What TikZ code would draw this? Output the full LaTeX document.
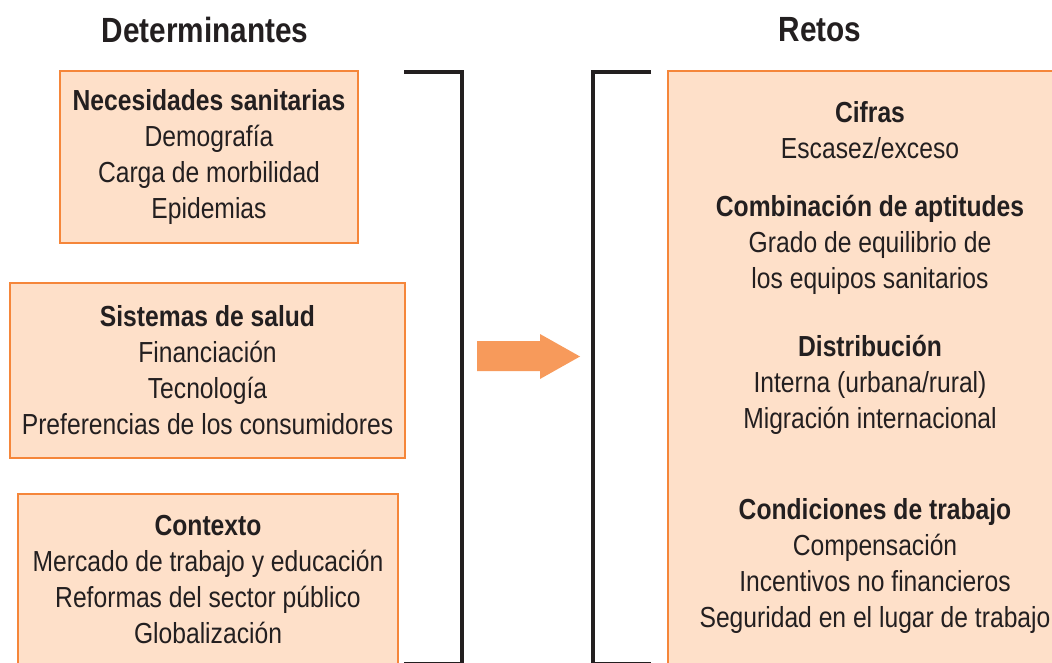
\documentclass[tikz,border=0pt]{standalone}
\usepackage{fontspec}
\setmainfont{Liberation Sans}[FakeStretch=0.85]
\definecolor{cajafondo}{HTML}{FEE0C9}
\definecolor{cajaborde}{HTML}{F5863A}
\definecolor{flechacolor}{HTML}{F79A5B}
\definecolor{tinta}{HTML}{231F20}
\tikzset{
	caja/.style={draw=cajaborde, fill=cajafondo, line width=1.5pt, inner sep=0pt},
	texto/.style={align=center, text=tinta, font=\fontsize{29}{36}\selectfont},
	corchete/.style={line width=4pt, color=tinta},
	titulo/.style={text=tinta, font=\fontsize{35}{40}\selectfont\bfseries}
}
\newcommand{\encabezado}[1]{{\fontsize{29}{36}\selectfont\bfseries #1}}

\begin{document}
\begin{tikzpicture}[x=1pt, y=-1pt]
		%%%%% START %%%%%
		\useasboundingbox (0, 0) rectangle (1052, 663);
		\clip (0, 0) rectangle (1052, 663);
		
		\node[titulo] (determinantes) at (205, 30) {Determinantes};
		\node[titulo] (retos) at (820, 30) {Retos};
		
		\node[caja, texto, minimum width=298, minimum height=172] (necesidades) at (209, 157) {\encabezado{Necesidades sanitarias}\\Demografía\\Carga de morbilidad\\Epidemias};
		\node[caja, texto, minimum width=395, minimum height=175] (sistemas) at (207.5, 370.5) {\encabezado{Sistemas de salud}\\Financiación\\Tecnología\\Preferencias de los consumidores};
		\node[caja, texto, minimum width=380, minimum height=172] (contexto) at (208, 580) {\encabezado{Contexto}\\Mercado de trabajo y educación\\Reformas del sector público\\Globalización};
		
		\draw[corchete] (404, 72) -- (462, 72) -- (462, 664) -- (404, 664);
		\draw[corchete] (651, 72) -- (593, 72) -- (593, 664) -- (651, 664);
		
		\draw[fill=flechacolor, draw=none] (477, 341) -- (540, 341) -- (540, 334) -- (580, 356.5) -- (540, 379) -- (540, 371) -- (477, 371) -- cycle;
		
		\node[caja, minimum width=412, minimum height=598] (marco) at (874, 370) {};
		\node[texto] (cifras) at (870, 130) {\encabezado{Cifras}\\Escasez/exceso};
		\node[texto] (aptitudes) at (870, 245) {\encabezado{Combinación de aptitudes}\\Grado de equilibrio de\\los equipos sanitarios};
		\node[texto] (distribucion) at (870, 385) {\encabezado{Distribución}\\Interna (urbana/rural)\\Migración internacional};
		\node[texto] (condiciones) at (875, 566) {\encabezado{Condiciones de trabajo}\\Compensación\\Incentivos no financieros\\Seguridad en el lugar de trabajo};
		
		%%%%% END %%%%%
\end{tikzpicture}
\end{document}
